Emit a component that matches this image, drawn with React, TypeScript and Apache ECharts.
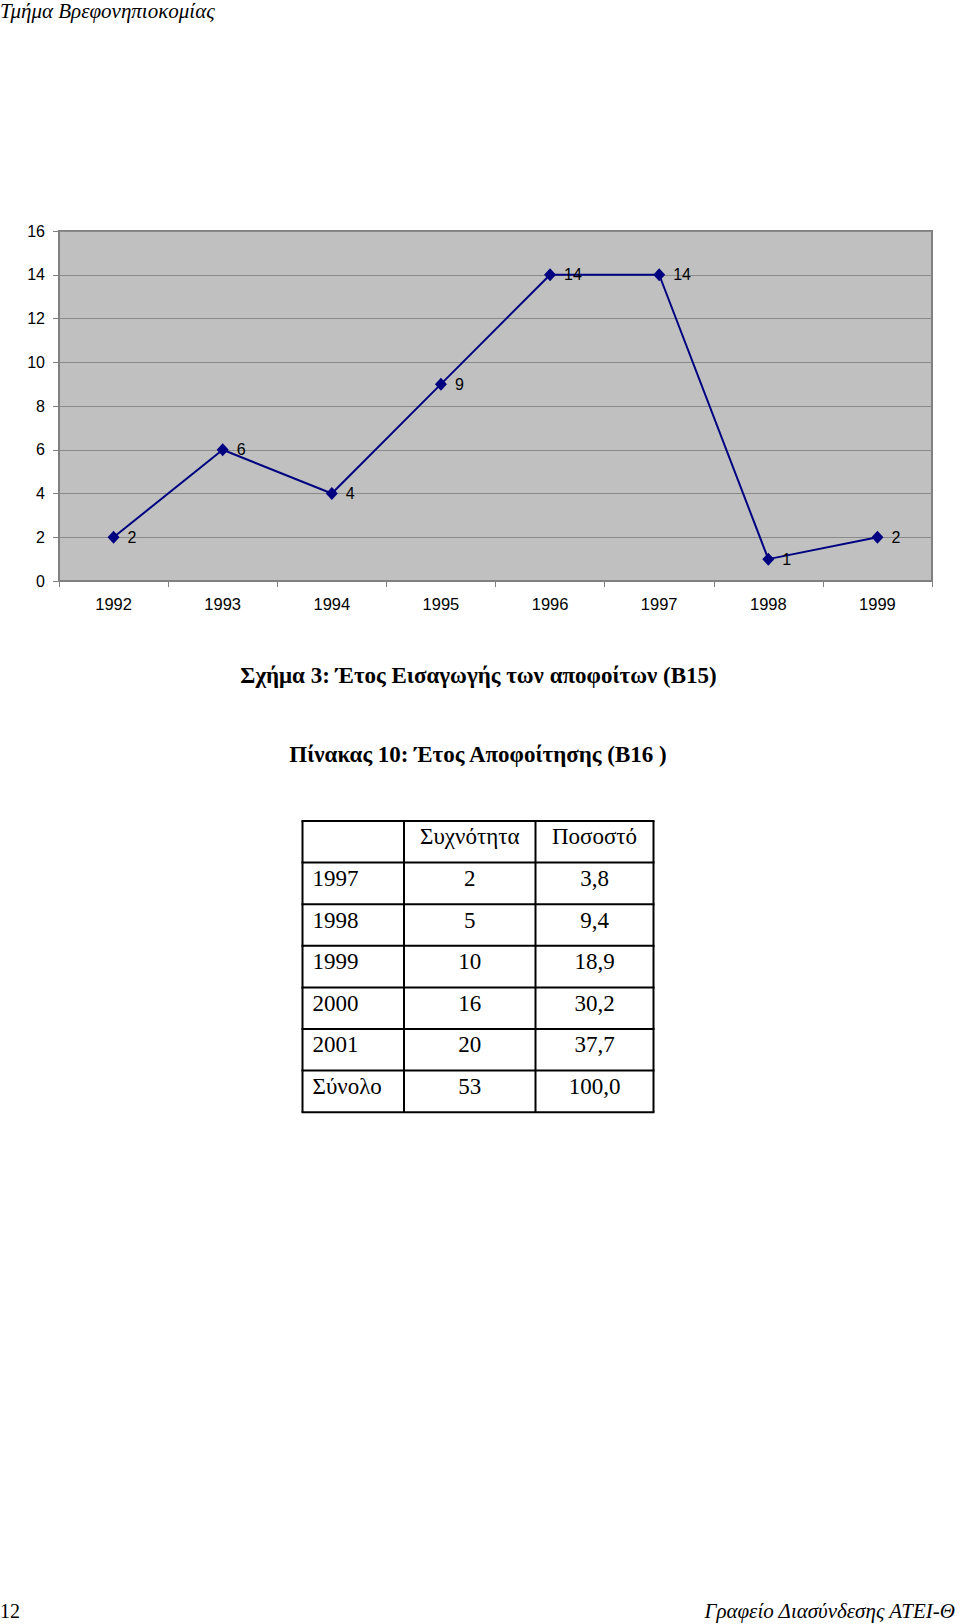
import React, { useEffect, useRef } from "react";
import * as echarts from "echarts";

const categories = ["1992", "1993", "1994", "1995", "1996", "1997", "1998", "1999"];
const entryValues = [2, 6, 4, 9, 14, 14, 1, 2];
const yMin = 0;
const yMax = 16;
const yInterval = 2;

const headerText = "Τμήμα Βρεφονηπιοκομίας";
const figureCaption = "Σχήμα 3: Έτος Εισαγωγής των αποφοίτων (Β15)";
const tableCaption = "Πίνακας 10: Έτος Αποφοίτησης (Β16 )";
const tableHeaders = ["", "Συχνότητα", "Ποσοστό"];
const tableYears = ["1997", "1998", "1999", "2000", "2001", "Σύνολο"];
const tableFreq = ["2", "5", "10", "16", "20", "53"];
const tablePct = ["3,8", "9,4", "18,9", "30,2", "37,7", "100,0"];
const footerPage = "12";
const footerText = "Γραφείο Διασύνδεσης ΑΤΕΙ-Θ";

const SERIF = "'Liberation Serif', 'Times New Roman', serif";
const SANS = "'Liberation Sans', Arial, sans-serif";

export default function App() {
  const ref = useRef<HTMLDivElement>(null);

  useEffect(() => {
    if (!ref.current) return;
    const chart = echarts.init(ref.current, undefined, { renderer: "svg" });

    // table geometry
    const colX = [302.5, 404, 535.5, 653.5];
    const rowTop = 821;
    const rowH = 41.6;
    const nRows = tableYears.length + 1;
    const tableBottom = rowTop + rowH * nRows;
    const graphics: any[] = [];

    graphics.push({
      type: "text",
      left: 0,
      top: 0,
      style: { text: headerText, font: `italic 21px ${SERIF}`, fill: "#000" },
    });
    graphics.push({
      type: "text",
      x: 478.5,
      y: 675,
      style: {
        text: figureCaption,
        font: `bold 23px ${SERIF}`,
        fill: "#000",
        align: "center",
        verticalAlign: "middle",
      },
    });
    graphics.push({
      type: "text",
      x: 478,
      y: 754,
      style: {
        text: tableCaption,
        font: `bold 23px ${SERIF}`,
        fill: "#000",
        align: "center",
        verticalAlign: "middle",
      },
    });

    // table lines
    for (let i = 0; i <= nRows; i++) {
      const y = rowTop + rowH * i;
      graphics.push({
        type: "line",
        shape: { x1: colX[0] - 1, y1: y, x2: colX[3] + 1, y2: y },
        style: { stroke: "#000", lineWidth: 2 },
      });
    }
    for (let j = 0; j < colX.length; j++) {
      graphics.push({
        type: "line",
        shape: { x1: colX[j], y1: rowTop, x2: colX[j], y2: tableBottom },
        style: { stroke: "#000", lineWidth: 2 },
      });
    }
    const rows: string[][] = [tableHeaders];
    for (let i = 0; i < tableYears.length; i++) {
      rows.push([tableYears[i], tableFreq[i], tablePct[i]]);
    }
    rows.forEach((row, i) => {
      const cy = rowTop + rowH * i + rowH / 2 - 5;
      row.forEach((cell, j) => {
        if (!cell) return;
        const left = j === 0;
        graphics.push({
          type: "text",
          x: left ? colX[0] + 10 : (colX[j] + colX[j + 1]) / 2,
          y: cy,
          style: {
            text: cell,
            font: `23px ${SERIF}`,
            fill: "#000",
            align: left ? "left" : "center",
            verticalAlign: "middle",
          },
        });
      });
    });

    graphics.push({
      type: "text",
      x: 0,
      y: 1611,
      style: { text: footerPage, font: `20px ${SERIF}`, fill: "#000", verticalAlign: "middle" },
    });
    graphics.push({
      type: "text",
      x: 955,
      y: 1611,
      style: {
        text: footerText,
        font: `italic 21px ${SERIF}`,
        fill: "#000",
        align: "right",
        verticalAlign: "middle",
      },
    });

    chart.setOption({
      animation: false,
      backgroundColor: "#ffffff",
      grid: {
        left: 59,
        top: 231,
        width: 873,
        height: 350,
        show: true,
        backgroundColor: "#c0c0c0",
        borderColor: "#808080",
        borderWidth: 2,
        containLabel: false,
      },
      xAxis: {
        type: "category",
        data: categories,
        boundaryGap: true,
        axisLine: { show: true, lineStyle: { color: "#808080", width: 2 } },
        axisTick: { show: true, length: 6, lineStyle: { color: "#808080", width: 1 } },
        axisLabel: { color: "#000", fontFamily: SANS, fontSize: 16.5, margin: 14 },
        splitLine: { show: false },
      },
      yAxis: {
        type: "value",
        min: yMin,
        max: yMax,
        interval: yInterval,
        axisLine: { show: true, lineStyle: { color: "#808080", width: 2 } },
        axisTick: { show: true, length: 6, lineStyle: { color: "#808080", width: 1 } },
        axisLabel: { color: "#000", fontFamily: SANS, fontSize: 16, margin: 14 },
        splitLine: { show: true, lineStyle: { color: "#8a8a8a", width: 1 } },
      },
      series: [
        {
          type: "line",
          data: entryValues,
          symbol: "diamond",
          symbolSize: [12, 13],
          itemStyle: { color: "#000080" },
          lineStyle: { color: "#000080", width: 2 },
          label: {
            show: true,
            position: "right",
            distance: 8,
            color: "#000",
            fontFamily: SANS,
            fontSize: 16,
          },
        },
      ],
      graphic: graphics,
    });

    return () => chart.dispose();
  }, []);

  return (
    <div
      ref={ref}
      style={{ position: "absolute", left: 0, top: 0, width: 960, height: 1624 }}
    />
  );
}
